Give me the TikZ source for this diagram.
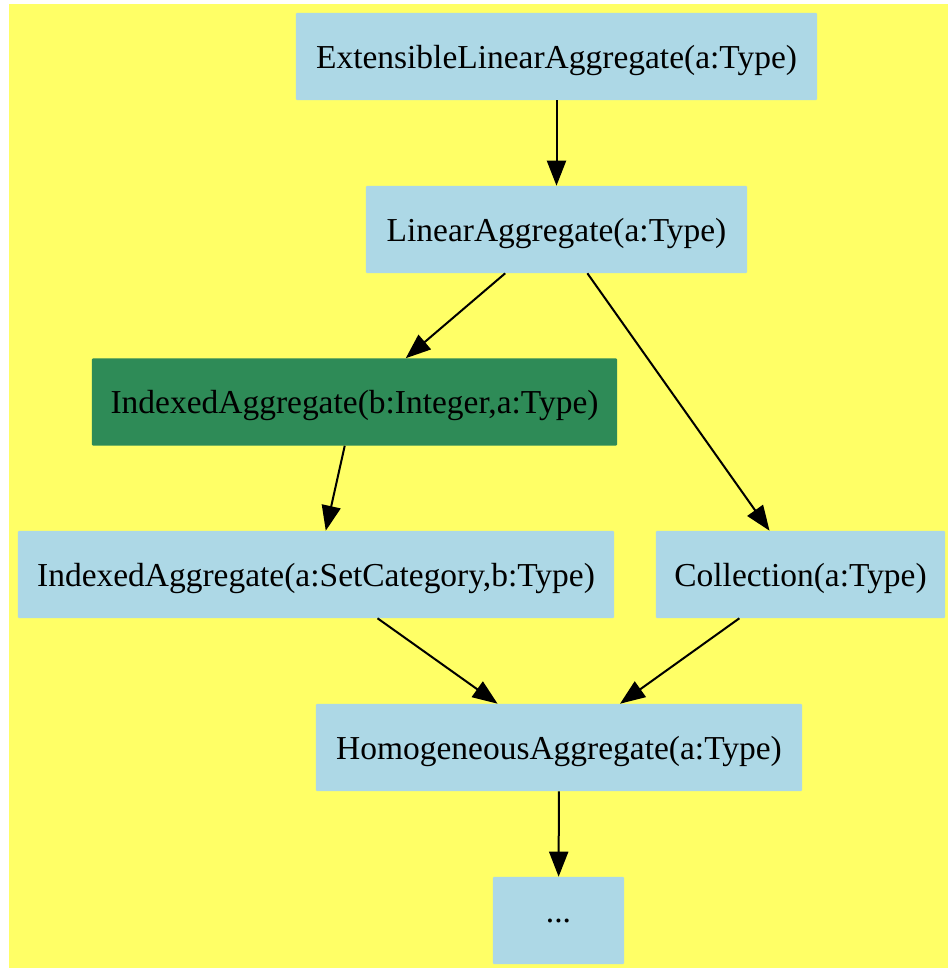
\documentclass[tikz,border=0pt]{standalone}
\usepackage{fontspec}
\setmainfont{Liberation Serif}
\usetikzlibrary{arrows.meta}
\usepackage{xcolor}
\definecolor{bgyellow}{HTML}{FFFF66}
\definecolor{catblue}{HTML}{ADD8E6}
\definecolor{catgreen}{HTML}{2E8B57}

\begin{document}
\begin{tikzpicture}[x=0.025cm, y=-0.025cm,
  cat/.style={fill=catblue, rounded corners=0.7pt, inner sep=0pt, text depth=0pt,
              font=\fontsize{23.8}{28}\selectfont, minimum height=2.175cm},
  cur/.style={cat, fill=catgreen},
  arr/.style={-{Triangle[length=0.625cm, width=0.475cm]}, line width=0.05cm, black}
]
\useasboundingbox (0,0) rectangle (948,968);
\fill[bgyellow] (9,4) rectangle (948,968);

\node[cat, minimum width=13.025cm] (ela) at (556.5, 56.5)  {ExtensibleLinearAggregate(a:Type)};
\node[cat, minimum width=9.525cm]  (la)  at (556.5, 229.5) {LinearAggregate(a:Type)};
\node[cur, minimum width=13.125cm] (iab) at (354.5, 402)   {IndexedAggregate(b:Integer,a:Type)};
\node[cat, minimum width=14.9cm]   (ias) at (316, 574.5)   {IndexedAggregate(a:SetCategory,b:Type)};
\node[cat, minimum width=7.225cm]  (col) at (800.5, 574.5) {Collection(a:Type)};
\node[cat, minimum width=12.15cm]  (hom) at (559, 747.5)   {HomogeneousAggregate(a:Type)};
\node[cat, minimum width=3.275cm]  (etc) at (558.5, 920.5) {...};

\draw[arr] (ela) -- (la);
\draw[arr] (la) -- (iab);
\draw[arr] (la) -- (col);
\draw[arr] (iab) -- (ias);
\draw[arr] (ias) -- (hom);
\draw[arr] (col) -- (hom);
\draw[arr] (hom) -- (etc);
\end{tikzpicture}
\end{document}
